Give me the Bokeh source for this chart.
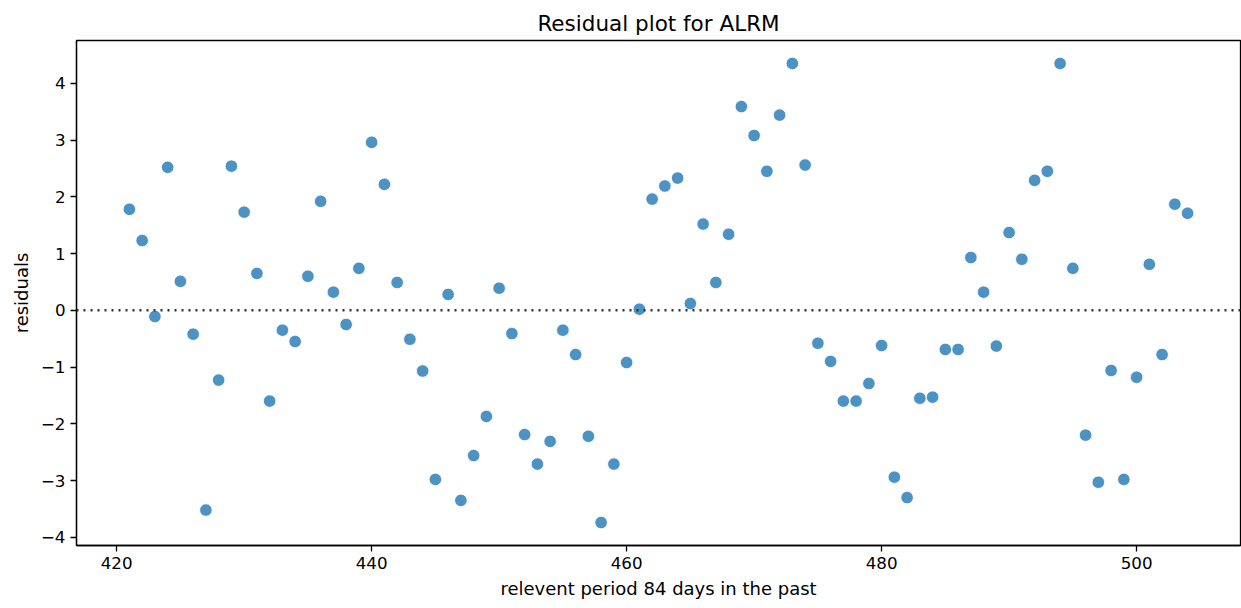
from bokeh.plotting import figure
from bokeh.models import Span, Range1d, FixedTicker, Title
from bokeh.embed import file_html
from bokeh.resources import INLINE

# Data
period = list(range(421, 505))
residuals = [
    1.78, 1.23, -0.11, 2.52, 0.51, -0.42, -3.52, -1.23, 2.54, 1.73,
    0.65, -1.60, -0.35, -0.55, 0.60, 1.92, 0.32, -0.25, 0.74, 2.96,
    2.22, 0.49, -0.51, -1.07, -2.98, 0.28, -3.35, -2.56, -1.87, 0.39,
    -0.41, -2.19, -2.71, -2.31, -0.35, -0.78, -2.22, -3.74, -2.71, -0.92,
    0.02, 1.96, 2.19, 2.33, 0.12, 1.52, 0.49, 1.34, 3.59, 3.08,
    2.45, 3.44, 4.35, 2.56, -0.58, -0.90, -1.60, -1.60, -1.29, -0.62,
    -2.94, -3.30, -1.55, -1.53, -0.69, -0.69, 0.93, 0.32, -0.63, 1.37,
    0.90, 2.29, 2.45, 4.35, 0.74, -2.20, -3.03, -1.06, -2.98, -1.18,
    0.81, -0.78, 1.87, 1.71,
]
x_ticks = [420, 440, 460, 480, 500]
y_ticks = [-4, -3, -2, -1, 0, 1, 2, 3, 4]

FONT = "DejaVu Sans"

xspan = max(period) - min(period)
yspan = max(residuals) - min(residuals)

p = figure(
    width=1241, height=608,
    output_backend="svg", toolbar_location=None,
    x_range=Range1d(min(period) - 0.05 * xspan, max(period) + 0.05 * xspan),
    y_range=Range1d(min(residuals) - 0.05 * yspan, max(residuals) + 0.05 * yspan),
    min_border_left=76, min_border_right=1, min_border_top=40, min_border_bottom=63,
)
p.title = Title(text="Residual plot for ALRM", align="center",
                text_font=FONT, text_font_size="21.5px", text_font_style="normal",
                text_color="black")

p.grid.visible = False
p.outline_line_color = "black"
p.outline_line_width = 1.3
p.outline_line_alpha = 1.0
p.background_fill_color = "white"
p.border_fill_color = "white"

for ax in (p.xaxis[0], p.yaxis[0]):
    ax.axis_line_color = "black"
    ax.axis_line_width = 1.3
    ax.major_tick_line_color = "black"
    ax.major_tick_line_width = 1.3
    ax.major_tick_out = 6
    ax.major_tick_in = 0
    ax.minor_tick_line_color = None
    ax.major_label_text_font = FONT
    ax.major_label_text_font_size = "16.7px"
    ax.major_label_text_color = "black"
    ax.major_label_standoff = 5
    ax.axis_label_text_font = FONT
    ax.axis_label_text_font_size = "18px"
    ax.axis_label_text_font_style = "normal"
    ax.axis_label_text_color = "black"

p.xaxis.ticker = FixedTicker(ticks=x_ticks)
p.yaxis.ticker = FixedTicker(ticks=y_ticks)
p.yaxis.major_label_overrides = {t: ("\u2212" + str(-t) if t < 0 else str(t)) for t in y_ticks}
p.xaxis.axis_label = "relevent period 84 days in the past"
p.yaxis.axis_label = "residuals"
p.xaxis.axis_label_standoff = 6
p.yaxis.axis_label_standoff = 6

p.add_layout(Span(location=0, dimension="width", line_color="#333333",
                  line_width=2.5, line_dash="2 5"))

p.scatter(period, residuals, size=12.5, marker="circle",
          fill_color="#1f77b4", fill_alpha=0.8,
          line_color="white", line_width=1, line_alpha=0.8)

open("out.html", "w").write(file_html(p, INLINE))
